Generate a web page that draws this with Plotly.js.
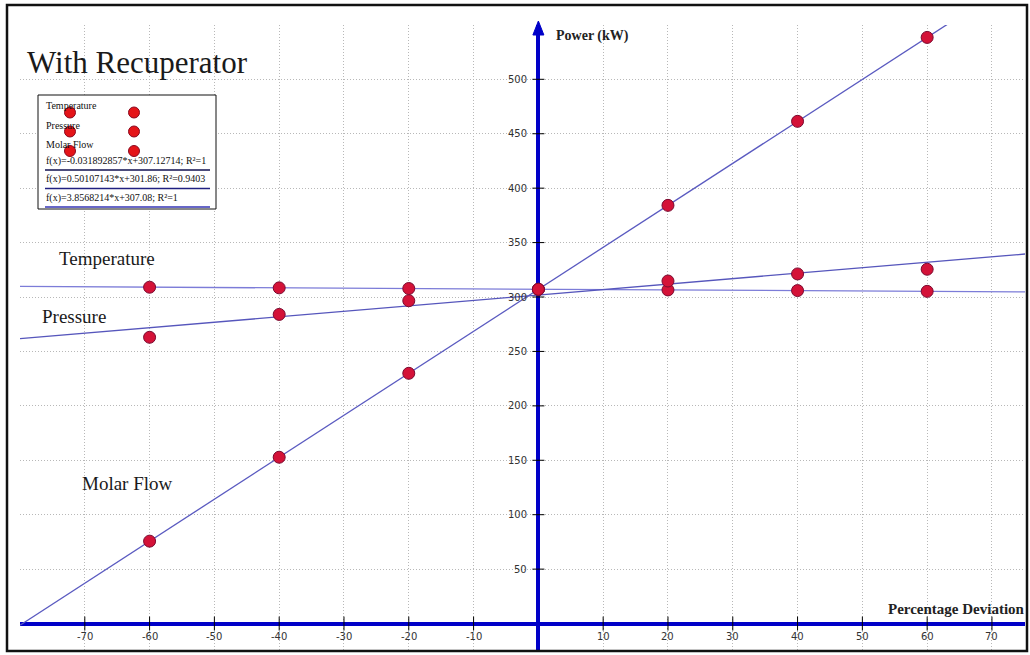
<!DOCTYPE html>
<html>
<head>
<meta charset="utf-8">
<script src="https://cdn.plot.ly/plotly-3.0.1.min.js"></script>
<style>
  html, body { margin: 0; padding: 0; background: #ffffff; }
  #chart { width: 1030px; height: 655px; }
</style>
</head>
<body>
<div id="chart"></div>
<script>
// ---- data ----
const deviation = [-60, -40, -20, 0, 20, 40, 60];
const temperature = [309.0, 308.4, 307.8, 307.1, 306.5, 305.9, 305.2];
const pressure = [263.0, 284.0, 296.6, 307.0, 314.7, 321.2, 325.5];
const molarFlow = [75.7, 152.8, 229.9, 307.1, 384.2, 461.4, 538.5];

const seriesNames = ["Temperature", "Pressure", "Molar Flow"];
const trendSlopes = [-0.031892857, 0.50107143, 3.8568214];
const trendIntercepts = [307.12714, 301.86, 307.08];
const trendLabels = [
  "f(x)=-0.031892857*x+307.12714; R²=1",
  "f(x)=0.50107143*x+301.86; R²=0.9403",
  "f(x)=3.8568214*x+307.08; R²=1"
];

const xTickVals = [-70, -60, -50, -40, -30, -20, -10, 10, 20, 30, 40, 50, 60, 70];
const yTickVals = [50, 100, 150, 200, 250, 300, 350, 400, 450, 500];

const chartTitle = "With Recuperator";
const xAxisTitle = "Percentage Deviation";
const yAxisTitle = "Power (kW)";

// ---- layout geometry ----
const W = 1030, H = 655;
const M = { l: 20, r: 5, t: 25, b: 5 };
const xRange = [-80, 75.1];
const yRange = [-24.3, 549.9];
const plotW = W - M.l - M.r, plotH = H - M.t - M.b;
const px = v => (v - M.l) / plotW;          // pixel x -> paper x
const py = v => (H - M.b - v) / plotH;      // pixel y -> paper y
const xPaperOf = x => (x - xRange[0]) / (xRange[1] - xRange[0]);

const serif = "Liberation Serif, Times New Roman, serif";
const sans = "DejaVu Sans, Verdana, sans-serif";
const blue = "#0000c8";
const markerColor = "#d41238";
const markerLine = "#7a0a30";
const trendColors = ["#7c7cd8", "#5656bc", "#5a5ac0"];
const legendLineColors = ["#101050", "#202080", "#3434b4"];

const values = [temperature, pressure, molarFlow];
const traces = [];

// trendlines (from the fit coefficients shown in the legend)
for (let i = 0; i < 3; i++) {
  const xs = [xRange[0], xRange[1]];
  traces.push({
    x: xs,
    y: xs.map(x => trendSlopes[i] * x + trendIntercepts[i]),
    mode: "lines",
    line: { color: trendColors[i], width: 1.3 },
    showlegend: false,
    hoverinfo: "skip"
  });
}
// data points
for (let i = 0; i < 3; i++) {
  traces.push({
    x: deviation,
    y: values[i],
    name: seriesNames[i],
    mode: "markers",
    marker: { color: markerColor, size: 12, line: { color: markerLine, width: 1 } },
    cliponaxis: false,
    showlegend: false
  });
}

const shapes = [];
const annotations = [];

// tick marks crossing the axes
xTickVals.forEach(t => {
  shapes.push({ type: "line", xref: "x", yref: "y", ysizemode: "pixel", yanchor: 0,
    x0: t, x1: t, y0: -7, y1: 7, line: { color: "#000000", width: 1 } });
  annotations.push({ xref: "x", yref: "y", x: t, y: 0, yshift: -13, text: String(t),
    showarrow: false, xanchor: "center", yanchor: "middle",
    font: { family: sans, size: 10, color: "#333333" } });
});
yTickVals.forEach(t => {
  shapes.push({ type: "line", xref: "x", yref: "y", xsizemode: "pixel", xanchor: 0,
    x0: -6, x1: 6, y0: t, y1: t, line: { color: "#000000", width: 1 } });
  annotations.push({ xref: "x", yref: "y", x: 0, y: t, xshift: -9, text: String(t),
    showarrow: false, xanchor: "right", yanchor: "middle",
    font: { family: sans, size: 10, color: "#333333" } });
});

// arrow on top of the vertical axis
const ax0 = xPaperOf(0);
const axPx = M.l + ax0 * plotW;
shapes.push({ type: "path", xref: "paper", yref: "paper",
  path: `M ${px(axPx - 5.5)} ${py(35)} L ${px(axPx)} ${py(21)} L ${px(axPx + 5.5)} ${py(35)} Z`,
  fillcolor: blue, line: { color: blue, width: 1 } });

// outer frame
shapes.push({ type: "rect", xref: "paper", yref: "paper",
  x0: px(7), x1: px(1027), y0: py(651), y1: py(5),
  line: { color: "#111111", width: 2.5 }, fillcolor: "rgba(0,0,0,0)", layer: "above" });

// legend box
shapes.push({ type: "rect", xref: "paper", yref: "paper",
  x0: px(38), x1: px(216), y0: py(209), y1: py(95),
  line: { color: "#111111", width: 1 }, fillcolor: "#ffffff", layer: "above" });

const legendTextY = [105, 125, 144.5];
const legendDotY = [112.5, 131.5, 151];
const eqY = [160.5, 179.5, 198];
const eqLineY = [170, 188.5, 207];
for (let i = 0; i < 3; i++) {
  annotations.push({ xref: "paper", yref: "paper", x: px(44), y: py(legendTextY[i]),
    text: seriesNames[i], showarrow: false, xanchor: "left", yanchor: "middle",
    font: { family: serif, size: 10, color: "#111111" } });
  [70, 134].forEach(cx => {
    shapes.push({ type: "circle", xref: "paper", yref: "paper",
      xsizemode: "pixel", ysizemode: "pixel", xanchor: px(cx), yanchor: py(legendDotY[i]),
      x0: -5.5, x1: 5.5, y0: -5.5, y1: 5.5,
      fillcolor: "#e41418", line: { color: "#8a0a20", width: 1 }, layer: "above" });
  });
  annotations.push({ xref: "paper", yref: "paper", x: px(44), y: py(eqY[i]),
    text: trendLabels[i], showarrow: false, xanchor: "left", yanchor: "middle",
    font: { family: serif, size: 10, color: "#111111" } });
  shapes.push({ type: "line", xref: "paper", yref: "paper",
    x0: px(45), x1: px(210), y0: py(eqLineY[i]), y1: py(eqLineY[i]),
    line: { color: legendLineColors[i], width: 1.3 }, layer: "above" });
}

// chart title and series labels
annotations.push({ xref: "paper", yref: "paper", x: px(25), y: py(62), text: chartTitle,
  showarrow: false, xanchor: "left", yanchor: "middle",
  font: { family: serif, size: 31, color: "#1a1a1a" } });
const seriesLabelPos = [[57, 258], [40, 316], [80, 483]];
for (let i = 0; i < 3; i++) {
  annotations.push({ xref: "paper", yref: "paper", x: px(seriesLabelPos[i][0]), y: py(seriesLabelPos[i][1]),
    text: seriesNames[i], showarrow: false, xanchor: "left", yanchor: "middle",
    font: { family: serif, size: 19, color: "#1a1a1a" } });
}
// axis titles
annotations.push({ xref: "paper", yref: "paper", x: px(554), y: py(36), text: "<b>" + yAxisTitle + "</b>",
  showarrow: false, xanchor: "left", yanchor: "middle",
  font: { family: serif, size: 14, color: "#222222" } });
annotations.push({ xref: "paper", yref: "paper", x: px(886), y: py(609), text: "<b>" + xAxisTitle + "</b>",
  showarrow: false, xanchor: "left", yanchor: "middle",
  font: { family: serif, size: 15, color: "#222222" } });

const layout = {
  width: W, height: H,
  margin: M,
  paper_bgcolor: "#ffffff",
  plot_bgcolor: "#ffffff",
  showlegend: false,
  xaxis: {
    range: xRange, tick0: 0, dtick: 10, showticklabels: false, ticks: "",
    showgrid: true, gridcolor: "#b8b8b8", griddash: "1px,2px", gridwidth: 1,
    zeroline: true, zerolinecolor: blue, zerolinewidth: 4,
    showline: false, fixedrange: true
  },
  yaxis: {
    range: yRange, tick0: 0, dtick: 50, showticklabels: false, ticks: "",
    showgrid: true, gridcolor: "#b8b8b8", griddash: "1px,2px", gridwidth: 1,
    zeroline: true, zerolinecolor: blue, zerolinewidth: 4,
    showline: false, fixedrange: true
  },
  shapes: shapes,
  annotations: annotations
};

Plotly.newPlot("chart", traces, layout, { displayModeBar: false, staticPlot: true });
</script>
</body>
</html>
